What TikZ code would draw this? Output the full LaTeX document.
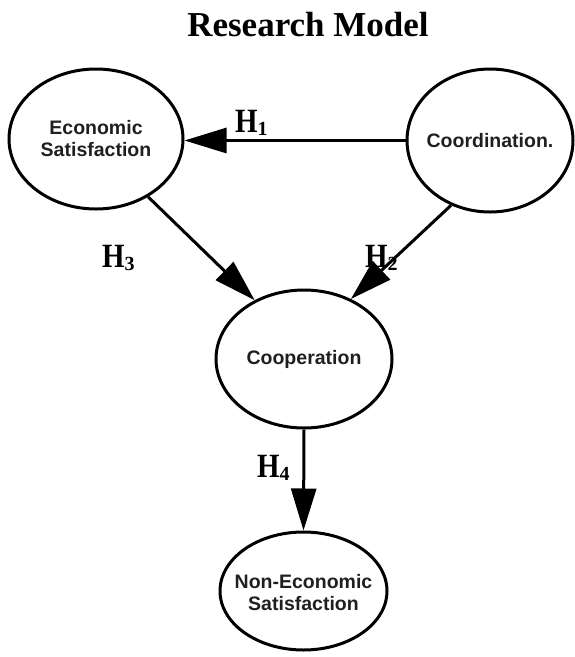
\documentclass[tikz,border=0pt]{standalone}
\usepackage{fontspec}
\setmainfont{Liberation Serif}
\newfontfamily\arialf{Liberation Sans}
\usetikzlibrary{shapes.geometric,arrows.meta}
\newcommand\hlab[1]{\scalebox{0.85}[1]{H}\raisebox{-3pt}{\fontsize{20}{20}\selectfont #1}}
\begin{document}
\begin{tikzpicture}[x=1pt,y=-1pt,
  ell/.style={ellipse, draw=black, line width=3pt, inner sep=0pt},
  lbl/.style={font=\arialf\bfseries\fontsize{19.5}{22}\selectfont, align=center, text=black!88, inner sep=0pt},
  conn/.style={line width=3pt, -{Triangle[length=42pt,width=25pt]}},
  hl/.style={font=\bfseries\fontsize{34}{34}\selectfont, inner sep=0pt, anchor=base west},
  ttl/.style={font=\bfseries\fontsize{35}{40}\selectfont, inner sep=0pt, anchor=base}
]
\useasboundingbox (0,0) rectangle (575,657);
\node[ttl] (title) at (308,36) {Research Model};

\node[ell, minimum width=174pt, minimum height=140pt,
      label={[lbl]center:{Economic\\Satisfaction}}] (econ) at (96,139) {};
\node[ell, minimum width=166pt, minimum height=143pt,
      label={[lbl]center:{Coordination.}}] (coord) at (490,140.5) {};
\node[ell, minimum width=176pt, minimum height=138pt,
      label={[lbl]center:{Cooperation}}] (coop) at (304,359) {};
\node[ell, minimum width=167pt, minimum height=118pt,
      label={[lbl,yshift=-2pt]center:{Non-Economic\\Satisfaction}}] (nonecon) at (303.5,591) {};

\draw[conn] (coord.west) -- (coord.west -| econ.east);
\draw[conn] (econ.-48) -- (coop.130);
\draw[conn] (coord.239) -- (coop.52);
\draw[conn] (coop.south) -- (nonecon.north);

\node[hl] (h1) at (235,132) {\hlab{1}};
\node[hl] (h2) at (365,267) {\hlab{2}};
\node[hl] (h3) at (102,267) {\hlab{3}};
\node[hl] (h4) at (257,477) {\hlab{4}};
\end{tikzpicture}
\end{document}
